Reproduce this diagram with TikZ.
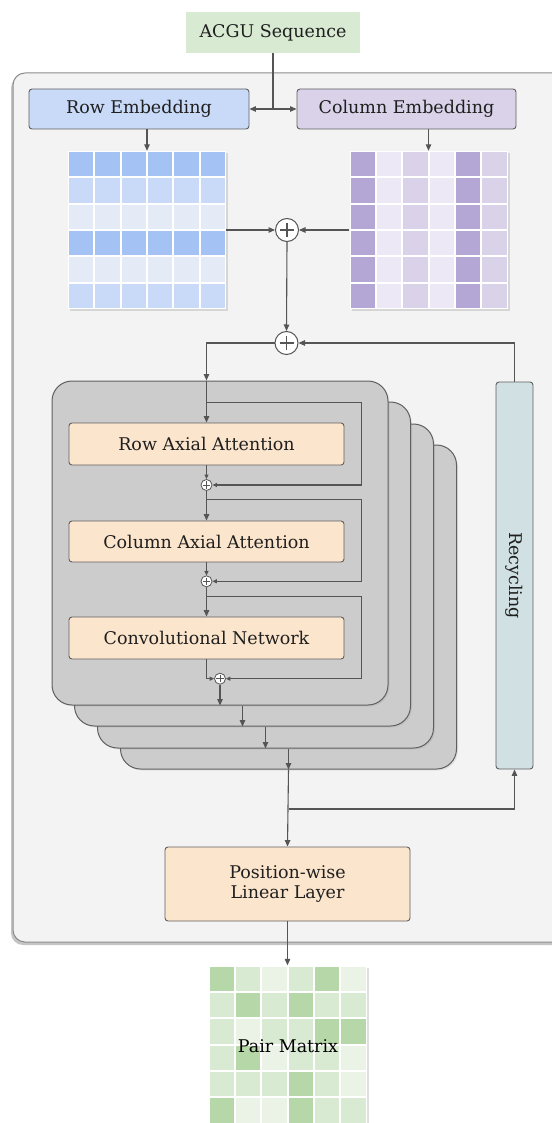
\documentclass[tikz,border=0pt]{standalone}
\usepackage{fontspec}
\setmainfont{DejaVu Serif}
\usetikzlibrary{arrows.meta,shadows,calc}
\definecolor{lc}{HTML}{555555}
\definecolor{bc}{HTML}{5F5F5F}
\definecolor{acgu}{HTML}{D9EAD3}
\definecolor{rowc}{HTML}{C9DAF8}
\definecolor{colc}{HTML}{D9D2E9}
\definecolor{panelc}{HTML}{F3F3F3}
\definecolor{stackc}{HTML}{CCCCCC}
\definecolor{orangec}{HTML}{FCE5CD}
\definecolor{recc}{HTML}{D0E0E3}
\definecolor{rd}{HTML}{A4C2F4}
\definecolor{rm}{HTML}{C9DAF8}
\definecolor{rl}{HTML}{E4EBF6}
\definecolor{pd}{HTML}{B4A7D6}
\definecolor{pm}{HTML}{D9D2E9}
\definecolor{pl}{HTML}{ECE8F5}
\definecolor{gd}{HTML}{B6D7A8}
\definecolor{gm}{HTML}{D9EAD3}
\definecolor{gl}{HTML}{EBF3E7}
\begin{document}
\begin{tikzpicture}[x=1pt,y=-1pt,
  line/.style={draw=lc, line width=1.1pt},
  arr/.style={line, -{Triangle[length=6.5pt,width=5.5pt]}},
  sarr/.style={line, -{Triangle[length=4.5pt,width=4pt]}},
  txt/.style={font=\fontsize{17.5}{20}\selectfont, text=black!88},
  box/.style={txt, draw=bc, line width=0.9pt, rounded corners=3pt, inner sep=0pt, align=center},
  stackbox/.style={draw=bc, fill=stackc, line width=1pt, rounded corners=20pt, minimum width=336pt, minimum height=324pt, inner sep=0pt,
     drop shadow={shadow xshift=1.5pt, shadow yshift=-1.5pt, opacity=0.15}},
  matbg/.style={fill=white, minimum size=158pt, inner sep=0pt,
     drop shadow={shadow xshift=2pt, shadow yshift=-2pt, opacity=0.25}},
  bigplus/.style={circle, draw=lc, fill=white, line width=1pt, minimum size=23pt, inner sep=0pt,
     path picture={\draw[lc, line width=1.3pt] ($(path picture bounding box.center)+(-7,0)$) -- ++(14,0) ($(path picture bounding box.center)+(0,-7)$) -- ++(0,14);}},
  smallplus/.style={circle, draw=lc, fill=white, line width=0.8pt, minimum size=11pt, inner sep=0pt,
     path picture={\draw[lc, line width=1pt] ($(path picture bounding box.center)+(-3.6,0)$) -- ++(7.2,0) ($(path picture bounding box.center)+(0,-3.6)$) -- ++(0,7.2);}}
]
\useasboundingbox (0,0) rectangle (551,1123);
\fill[white] (0,0) rectangle (551,1123);

% outer panel
\filldraw[fill=panelc, draw=black!45, line width=1pt, rounded corners=12pt,
  drop shadow={shadow xshift=-2pt, shadow yshift=-3pt, opacity=0.45}] (13,73) rectangle (590,942);

% top nodes
\node[txt, fill=acgu, minimum width=174pt, minimum height=41pt, inner sep=0pt] (acgu) at (273,32.5) {ACGU Sequence};
\node[box, fill=rowc, minimum width=220pt, minimum height=40pt] (rowemb) at (139,109) {Row Embedding};
\node[box, fill=colc, minimum width=219pt, minimum height=40pt] (colemb) at (406.5,109) {Column Embedding};

% matrices
\node[matbg] (rowmat) at (147,230) {};
\foreach \r/\c in {0/rd,1/rm,2/rl,3/rd,4/rl,5/rm}
  \foreach \k in {0,...,5}
    \fill[\c] (68+\k*26.333+1, 151+\r*26.333+1) rectangle (68+\k*26.333+25.333, 151+\r*26.333+25.333);
\node[matbg] (colmat) at (428.5,230) {};
\foreach \k/\c in {0/pd,1/pl,2/pm,3/pl,4/pd,5/pm}
  \foreach \r in {0,...,5}
    \fill[\c] (349.5+\k*26.333+1, 151+\r*26.333+1) rectangle (349.5+\k*26.333+25.333, 151+\r*26.333+25.333);

\node[bigplus] (plus1) at (287,230) {};
\node[bigplus] (plus2) at (286.5,343) {};

% stack
\node[stackbox] (box4) at (288.5,607) {};
\node[stackbox] (box3) at (265.5,586) {};
\node[stackbox] (box2) at (242.5,564) {};
\node[stackbox] (box1) at (220,543) {};

\node[box, fill=orangec, minimum width=275pt, minimum height=42pt] (rowatt) at (206.5,444) {Row Axial Attention};
\node[box, fill=orangec, minimum width=275pt, minimum height=41pt] (colatt) at (206.5,541.5) {Column Axial Attention};
\node[box, fill=orangec, minimum width=275pt, minimum height=42pt] (conv) at (206.5,638) {Convolutional Network};
\node[smallplus] (sp1) at (206.5,485) {};
\node[smallplus] (sp2) at (206.5,581.3) {};
\node[smallplus] (sp3) at (220,678.7) {};

\node[box, fill=recc, minimum width=387pt, minimum height=37pt, rotate=-90] (recyc) at (514.5,575.5) {Recycling};
\node[box, fill=orangec, minimum width=245pt, minimum height=74pt] (pos) at (287.5,884) {Position-wise\\[0pt]Linear Layer};

% pair matrix
\node[matbg] (pairmat) at (287.5,1044.5) {};
\foreach \c [count=\i from 0] in {gd,gm,gl,gm,gd,gl, gm,gd,gm,gd,gm,gm, gm,gl,gm,gm,gd,gd, gm,gd,gl,gm,gm,gl, gm,gm,gm,gd,gm,gl, gd,gl,gl,gd,gm,gm}{
  \pgfmathtruncatemacro{\rr}{int(\i/6)}
  \pgfmathtruncatemacro{\kk}{mod(\i,6)}
  \fill[\c] (208.5+\kk*26.333+1, 965.5+\rr*26.333+1) rectangle (208.5+\kk*26.333+25.333, 965.5+\rr*26.333+25.333);
}
\node[txt, text=black] (pairlabel) at (288,1046) {Pair Matrix};

% connectors: top
\coordinate (split) at (acgu.south |- rowemb.east);
\draw[line] (acgu.south) -- (split);
\draw[arr] (split) -- (rowemb.east);
\draw[arr] (split) -- (colemb.west);
\draw[arr] (rowemb.south -| rowmat.north) -- (rowmat.north);
\draw[arr] (colemb.south -| colmat.north) -- (colmat.north);
\draw[arr] (rowmat.east) -- (plus1.west);
\draw[arr] (colmat.west) -- (plus1.east);
\draw[arr] (plus1.south) -- (plus2.north);
\draw[arr] (plus2.west) -| (box1.north -| rowatt.north);
\draw[arr] (box1.north -| rowatt.north) -- (rowatt.north);

% inner chain
\coordinate (b1) at (206.5,402.7);
\coordinate (b2) at (206.5,499.7);
\coordinate (b3) at (206.5,596.7);
\draw[sarr] (rowatt.south) -- (sp1.north);
\draw[sarr] (b1) -- (361.7,402.7) -- (361.7,485) -- (sp1.east);
\draw[arr] (sp1.south) -- (colatt.north);
\draw[sarr] (colatt.south) -- (sp2.north);
\draw[sarr] (b2) -- (361.7,499.7) -- (361.7,581.3) -- (sp2.east);
\draw[arr] (sp2.south) -- (conv.north);
\draw[sarr] (conv.south) |- (sp3.west);
\draw[sarr] (b3) -- (361.7,596.7) -- (361.7,678.7) -- (sp3.east);
\draw[arr] (sp3.south) -- (sp3 |- box1.south);
\draw[arr] (box1.south -| box2.south) -- (box2.south);
\draw[arr] (box2.south -| box3.south) -- (box3.south);
\draw[arr] (box3.south -| box4.south) -- (box4.south);

% bottom
\coordinate (rb) at (box4.south |- 0,809);
\draw[arr] (box4.south) -- (pos.north);
\draw[arr] (rb) -| (recyc.east);
\draw[arr] (recyc.west) |- (plus2.east);
\draw[arr] (pos.south) -- (pairmat.north);
\end{tikzpicture}
\end{document}
